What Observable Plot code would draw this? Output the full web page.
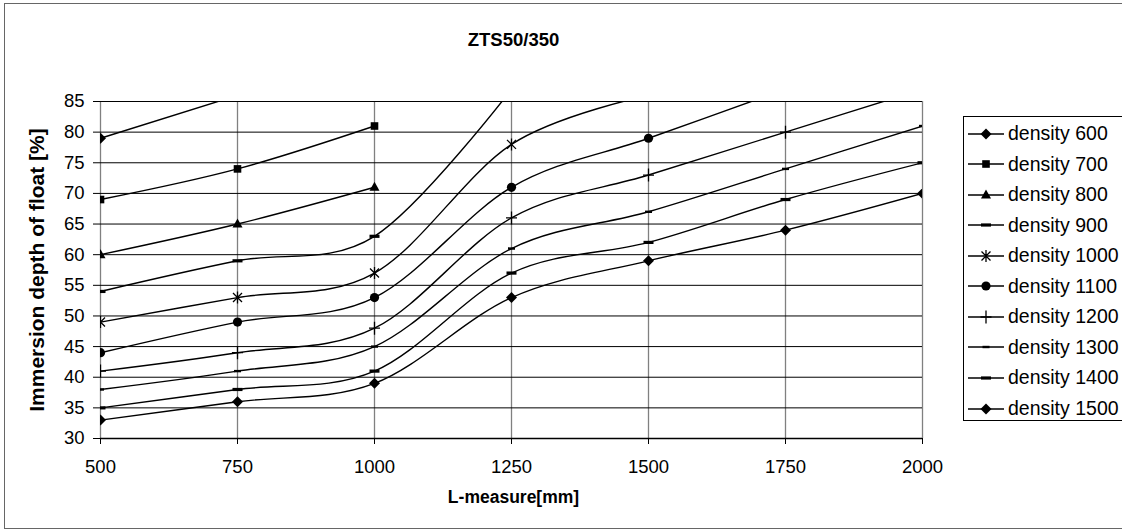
<!DOCTYPE html>
<html><head><meta charset="utf-8">
<script src="https://cdn.jsdelivr.net/npm/d3@7"></script>
<script src="https://cdn.jsdelivr.net/npm/@observablehq/plot@0.6"></script>
<style>
html,body{margin:0;padding:0;overflow:hidden;background:#fff;width:1122px;height:531px;}
body{font-family:"Liberation Sans",Arial,sans-serif;}
#frame{position:absolute;left:4px;top:3px;width:1140px;height:524px;border:1.5px solid #666;overflow:hidden;background:#fff;}
#plot{position:absolute;left:-5.5px;top:-4.5px;}
#legend{position:absolute;left:958px;top:112px;width:200px;height:305px;border:1px solid #000;box-sizing:border-box;background:#fff;}
.row{position:absolute;left:0;height:30px;display:flex;align-items:center;font-size:19.5px;color:#000;white-space:nowrap;}
.row svg{margin-right:2px;}
</style></head><body>
<div id="frame"><div id="plot"></div><div id="legend"></div></div>
<script>
// x categories (L-measure, mm)
const lengths = [500, 750, 1000, 1250, 1500, 1750, 2000];
const yTicks = [30, 35, 40, 45, 50, 55, 60, 65, 70, 75, 80, 85];
const densities = [600, 700, 800, 900, 1000, 1100, 1200, 1300, 1400, 1500];
// immersion depth [%] per density, aligned with lengths (values above 85 run off the chart)
const depth600  = [79, 86];
const depth700  = [69, 74, 81];
const depth800  = [60, 65, 71];
const depth900  = [54, 59, 63, 87];
const depth1000 = [49, 53, 57, 78, 86];
const depth1100 = [44, 49, 53, 71, 79, 87];
const depth1200 = [41, 44, 48, 66, 73, 80, 87];
const depth1300 = [38, 41, 45, 61, 67, 74, 81];
const depth1400 = [35, 38, 41, 57, 62, 69, 75];
const depth1500 = [33, 36, 39, 53, 59, 64, 70];
const seriesValues = [depth600, depth700, depth800, depth900, depth1000, depth1100, depth1200, depth1300, depth1400, depth1500];

// marker shapes (Excel-like)
const sym = {
  diamond: {draw(c){const r=5.5;c.moveTo(0,-r);c.lineTo(r,0);c.lineTo(0,r);c.lineTo(-r,0);c.closePath();}},
  square: {draw(c){const s=3.8;c.rect(-s,-s,2*s,2*s);}},
  triangle: {draw(c){c.moveTo(0,-5.5);c.lineTo(5,3.5);c.lineTo(-5,3.5);c.closePath();}},
  dash: {draw(c){c.rect(-5,-1.6,10,3.2);}},
  dashSmall: {draw(c){c.rect(-3.5,-1.2,7,2.4);}},
  star: {draw(c){c.moveTo(-4.5,-4.5);c.lineTo(4.5,4.5);c.moveTo(-4.5,4.5);c.lineTo(4.5,-4.5);c.moveTo(0,-6);c.lineTo(0,6);}},
  circle: {draw(c){c.moveTo(4.6,0);c.arc(0,0,4.6,0,2*Math.PI);}},
  plus: {draw(c){c.moveTo(-5.5,0);c.lineTo(5.5,0);c.moveTo(0,-6.5);c.lineTo(0,6.5);}}
};
const markerOf = ["diamond","square","triangle","dash","star","circle","plus","dashSmall","dash","diamond"];
const strokeOnly = new Set(["star","plus"]);

const rows = [];
densities.forEach((d, i) => {
  seriesValues[i].forEach((v, j) => rows.push({density: d, len: lengths[j], depth: v}));
});

// markers only for points inside the axis range (as in the original)
const dotMarks = densities.map((d, i) => {
  const m = markerOf[i];
  const so = strokeOnly.has(m);
  return Plot.dot(rows.filter(r => r.density === d && r.depth <= 85), {
    x: "len", y: "depth", symbol: sym[m], r: 5, clip: true,
    fill: so ? "none" : "#000", stroke: so ? "#000" : "none", strokeWidth: 1.3
  });
});

const chart = Plot.plot({
  width: 960, height: 531,
  marginLeft: 100, marginRight: 38, marginTop: 101, marginBottom: 93,
  style: {fontFamily: '"Liberation Sans", Arial, sans-serif', fontSize: "18.5px", color: "#000", background: "transparent", overflow: "visible"},
  x: {domain: [500, 2000]},
  y: {domain: [30, 85]},
  marks: [
    Plot.gridX(lengths, {stroke: "#808080", strokeOpacity: 1, strokeWidth: 1.3}),
    Plot.gridY(yTicks, {stroke: "#000", strokeOpacity: 1, strokeWidth: 1}),
    Plot.ruleY([30], {stroke: "#000", strokeWidth: 1.3}),
    Plot.axisX({ticks: lengths, tickSize: 6, tickPadding: 15, label: null, tickFormat: d => String(d), stroke: "#000"}),
    Plot.axisY({ticks: yTicks, tickSize: 7, tickPadding: 9, label: null, tickFormat: d => String(d), stroke: "#000"}),
    Plot.line(rows, {x: "len", y: "depth", z: "density", curve: "cardinal", stroke: "#000", strokeWidth: 1.4, clip: true}),
    ...dotMarks,
    Plot.text(["ZTS50/350"], {frameAnchor: "top", lineAnchor: "middle", dy: -61, dx: 2, fontSize: 18.5, fontWeight: "bold"}),
    Plot.text(["L-measure[mm]"], {frameAnchor: "bottom", lineAnchor: "middle", dy: 59, dx: 2, fontSize: 17.5, fontWeight: "bold"}),
    Plot.text(["Immersion depth of float [%]"], {frameAnchor: "left", textAnchor: "middle", lineAnchor: "middle", rotate: -90, dx: -63, fontSize: 21, fontWeight: "bold"})
  ]
});
document.getElementById("plot").appendChild(chart);

// legend
const legend = document.getElementById("legend");
densities.forEach((d, i) => {
  const row = document.createElement("div");
  row.className = "row";
  row.style.top = (1.5 + i * 30.56) + "px";
  const svgNS = "http://www.w3.org/2000/svg";
  const svg = document.createElementNS(svgNS, "svg");
  svg.setAttribute("width", 42); svg.setAttribute("height", 30);
  const ln = document.createElementNS(svgNS, "line");
  ln.setAttribute("x1", 4); ln.setAttribute("x2", 40); ln.setAttribute("y1", 15); ln.setAttribute("y2", 15);
  ln.setAttribute("stroke", "#000"); ln.setAttribute("stroke-width", 1.4);
  svg.appendChild(ln);
  const m = markerOf[i];
  const p = d3.path(); sym[m].draw(p);
  const path = document.createElementNS(svgNS, "path");
  path.setAttribute("d", p.toString());
  path.setAttribute("transform", "translate(22,15)");
  if (strokeOnly.has(m)) { path.setAttribute("fill", "none"); path.setAttribute("stroke", "#000"); path.setAttribute("stroke-width", 1.3); }
  else path.setAttribute("fill", "#000");
  svg.appendChild(path);
  row.appendChild(svg);
  const t = document.createElement("span");
  t.textContent = "density " + d;
  row.appendChild(t);
  legend.appendChild(row);
});
</script>
</body></html>
